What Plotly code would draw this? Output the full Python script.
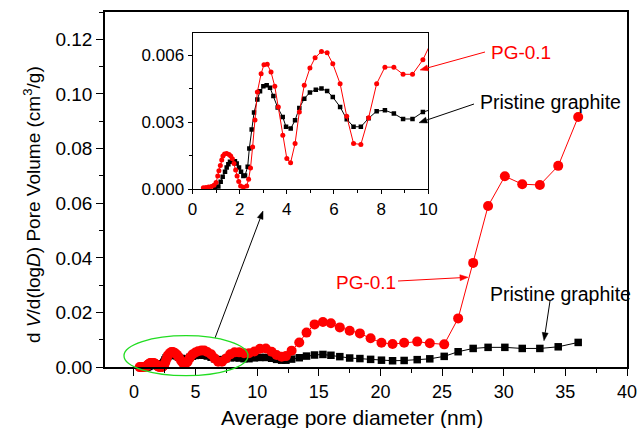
import math
import plotly.graph_objects as go

# ---------------- data ----------------
pg_x = [0.46, 0.57, 0.68, 0.80, 0.91, 1.00, 1.07, 1.12, 1.18, 1.24, 1.29, 1.36, 1.45, 1.55,
        1.62, 1.69, 1.76, 1.83, 1.89, 1.96, 2.04, 2.16, 2.30, 2.38, 2.46, 2.55, 2.65, 2.75,
        2.91, 3.03, 3.17, 3.33, 3.49, 3.64, 3.83, 4.00, 4.16, 4.35, 4.53, 4.74, 4.98, 5.20,
        5.47, 5.71, 5.95, 6.26, 6.54, 6.83, 7.14, 7.47, 7.81, 8.16, 8.54, 8.93, 9.33, 9.77,
        10.22, 10.70, 11.17, 11.57, 11.98, 12.33, 12.79, 13.41, 14.00, 14.65, 15.33, 15.98,
        16.70, 17.50, 18.33, 19.20, 20.08, 20.98, 21.92, 22.98, 24.00, 25.17, 26.30, 27.52,
        28.73, 30.09, 31.50, 32.93, 34.42, 36.04]
pg_y = [0.00007, 0.00008, 0.00010, 0.00013, 0.00018, 0.00030, 0.00060, 0.00083, 0.00107,
        0.00131, 0.00149, 0.00158, 0.00160, 0.00156, 0.00149, 0.00137, 0.00116, 0.00086,
        0.00060, 0.00035, 0.00015, 0.00009, 0.00015, 0.00045, 0.00095, 0.00190, 0.00310,
        0.00436, 0.00518, 0.00558, 0.00560, 0.00525, 0.00461, 0.00369, 0.00242, 0.00138,
        0.00119, 0.00205, 0.00346, 0.00466, 0.00543, 0.00589, 0.00617, 0.00611, 0.00562,
        0.00473, 0.00327, 0.00205, 0.00201, 0.00321, 0.00473, 0.00547, 0.00547, 0.00515,
        0.00515, 0.00580, 0.00680, 0.00690, 0.00570, 0.00450, 0.00390, 0.00410, 0.00610,
        0.00910, 0.01270, 0.01570, 0.01660, 0.01610, 0.01460, 0.01340, 0.01240, 0.01060,
        0.00900, 0.00850, 0.00900, 0.00940, 0.00880, 0.00840, 0.01790, 0.03820, 0.05900,
        0.06990, 0.06700, 0.06670, 0.07370, 0.09160]

gr_x = [0.955, 1.096, 1.195, 1.28, 1.379, 1.45, 1.52, 1.59, 1.69, 1.80, 1.874, 1.973, 2.058,
        2.157, 2.227, 2.34, 2.41, 2.51, 2.61, 2.75, 2.864, 3.005, 3.146, 3.288, 3.43, 3.613,
        3.826, 3.967, 4.165, 4.349, 4.53, 4.74, 4.98, 5.23, 5.47, 5.71, 5.95, 6.26, 6.54,
        6.83, 7.14, 7.47, 7.81, 8.16, 8.54, 8.93, 9.33, 9.77, 10.22, 10.70, 11.17, 11.57,
        11.98, 12.33, 12.79, 13.41, 14.00, 14.65, 15.33, 15.98, 16.70, 17.50, 18.33, 19.20,
        20.08, 20.98, 21.92, 22.98, 24.00, 25.17, 26.30, 27.52, 28.73, 30.09, 31.50, 32.93,
        34.42, 36.04]
gr_y = [0.00004, 0.00012, 0.00034, 0.00056, 0.00079, 0.00098, 0.00112, 0.00123, 0.00126,
        0.00126, 0.00116, 0.00098, 0.00079, 0.00060, 0.00062, 0.00101, 0.00183, 0.00268,
        0.00344, 0.00402, 0.00439, 0.00461, 0.00466, 0.00455, 0.00418, 0.00366, 0.00324,
        0.00280, 0.00272, 0.00309, 0.00364, 0.00406, 0.00434, 0.00446, 0.00451, 0.00440,
        0.00413, 0.00369, 0.00314, 0.00280, 0.00280, 0.00318, 0.00350, 0.00354, 0.00339,
        0.00315, 0.00315, 0.00346, 0.00360, 0.00360, 0.00330, 0.00290, 0.00260, 0.00260,
        0.00300, 0.00350, 0.00410, 0.00450, 0.00470, 0.00440, 0.00390, 0.00340, 0.00320,
        0.00290, 0.00260, 0.00240, 0.00250, 0.00280, 0.00310, 0.00400, 0.00570, 0.00690,
        0.00730, 0.00730, 0.00690, 0.00690, 0.00750, 0.00910]

main_xticks = [0, 5, 10, 15, 20, 25, 30, 35, 40]
main_yticks = [0.00, 0.02, 0.04, 0.06, 0.08, 0.10, 0.12]
inset_xticks = [0, 2, 4, 6, 8, 10]
inset_yticks = [0.000, 0.003, 0.006]

RED = "#FF0000"
BLACK = "#000000"
FONT = "Liberation Sans, Arial, sans-serif"
W, H = 638, 428


def px(x):
    return x / W


def py(y):
    return 1 - y / H


fig = go.Figure()

# main plot traces
fig.add_trace(go.Scatter(x=gr_x, y=gr_y, mode="lines+markers", name="Pristine graphite",
                         line=dict(color=BLACK, width=1),
                         marker=dict(symbol="square", size=7.5, color=BLACK),
                         cliponaxis=False, xaxis="x", yaxis="y"))
fig.add_trace(go.Scatter(x=pg_x, y=pg_y, mode="lines+markers", name="PG-0.1",
                         line=dict(color=RED, width=1),
                         marker=dict(symbol="circle", size=10, color=RED),
                         cliponaxis=False, xaxis="x", yaxis="y"))
# inset traces
fig.add_trace(go.Scatter(x=gr_x, y=gr_y, mode="lines+markers", name="Pristine graphite",
                         line=dict(color=BLACK, width=1),
                         marker=dict(symbol="square", size=4.5, color=BLACK),
                         xaxis="x2", yaxis="y2"))
fig.add_trace(go.Scatter(x=pg_x, y=pg_y, mode="lines+markers", name="PG-0.1",
                         line=dict(color=RED, width=1),
                         marker=dict(symbol="circle", size=5, color=RED),
                         xaxis="x2", yaxis="y2"))

axis_common = dict(showgrid=False, zeroline=False, showline=True, linecolor=BLACK,
                   mirror=True, ticks="outside", tickcolor=BLACK, automargin=False)

fig.update_layout(
    width=W, height=H,
    margin=dict(l=0, r=0, t=0, b=0, pad=0, autoexpand=False),
    paper_bgcolor="white", plot_bgcolor="white",
    showlegend=False,
    font=dict(family=FONT, color=BLACK),
    xaxis=dict(axis_common, domain=[px(105), px(627)], range=[-2.35, 40],
               tickvals=main_xticks, ticklen=7, tickwidth=1.2, linewidth=1.5,
               tickfont=dict(size=18, family=FONT),
               minor=dict(dtick=2.5, tick0=0, ticklen=4, ticks="outside", tickcolor=BLACK)),
    yaxis=dict(axis_common, domain=[py(367.3), py(12)], range=[0, 0.13],
               tickvals=main_yticks, tickformat=".2f", ticklen=7, tickwidth=1.2, linewidth=1.5,
               tickfont=dict(size=19, family=FONT),
               minor=dict(dtick=0.01, tick0=0, ticklen=4, ticks="outside", tickcolor=BLACK)),
    xaxis2=dict(axis_common, domain=[px(192.5), px(428.3)], range=[0, 10],
                tickvals=inset_xticks, ticklen=4, linewidth=1, anchor="y2",
                tickfont=dict(size=17, family=FONT),
                minor=dict(dtick=1, tick0=0, ticklen=2.5, ticks="outside", tickcolor=BLACK)),
    yaxis2=dict(axis_common, domain=[py(189.3), py(33)], range=[0, 0.007],
                tickvals=inset_yticks, tickformat=".3f", ticklen=4, linewidth=1, anchor="x2",
                tickfont=dict(size=17, family=FONT),
                minor=dict(dtick=0.0015, tick0=0, ticklen=2.5, ticks="outside", tickcolor=BLACK)),
)

annotations = [
    # axis titles
    dict(text="Average pore diameter (nm)", x=px(351.7), y=py(417), xref="paper", yref="paper",
         showarrow=False, font=dict(size=21, family=FONT, color=BLACK),
         xanchor="center", yanchor="middle"),
    dict(text="d <i>V</i>/d(log<i>D</i>) Pore Volume (cm<sup>3</sup>/g)", x=px(32), y=py(205),
         xref="paper", yref="paper", showarrow=False, textangle=-90,
         font=dict(size=19, family=FONT, color=BLACK), xanchor="center", yanchor="middle"),
    # labels
    dict(text="PG-0.1", x=px(521), y=py(52), xref="paper", yref="paper", showarrow=False,
         font=dict(size=19, family=FONT, color=RED), xanchor="center", yanchor="middle"),
    dict(text="Pristine graphite", x=px(550), y=py(101.7), xref="paper", yref="paper",
         showarrow=False, font=dict(size=19.5, family=FONT, color=BLACK),
         xanchor="center", yanchor="middle"),
    dict(text="PG-0.1", x=px(365.5), y=py(282), xref="paper", yref="paper", showarrow=False,
         font=dict(size=19, family=FONT, color=RED), xanchor="center", yanchor="middle"),
    dict(text="Pristine graphite", x=px(560), y=py(294), xref="paper", yref="paper",
         showarrow=False, font=dict(size=19.5, family=FONT, color=BLACK),
         xanchor="center", yanchor="middle"),
]
fig.update_layout(annotations=annotations)

# arrows drawn as line + filled triangle (pixel layout positions -> paper coords)
arrows = [
    ((420, 70), (485, 52), RED),
    ((419, 122.7), (474, 104), BLACK),
    ((468, 277.3), (398, 281), RED),
    ((544, 340.7), (550, 301), BLACK),
    ((263, 211), (215, 338), BLACK),
]
HEAD_LEN, HEAD_HALF = 8.0, 3.0
for (hx, hy), (tx, ty), col in arrows:
    dx, dy = hx - tx, hy - ty
    n = math.hypot(dx, dy)
    ux, uy = dx / n, dy / n
    bx, by = hx - HEAD_LEN * ux, hy - HEAD_LEN * uy
    nx, ny = -uy, ux
    fig.add_shape(type="line", xref="paper", yref="paper",
                  x0=px(tx), y0=py(ty), x1=px(bx), y1=py(by),
                  line=dict(color=col, width=1))
    p1 = (px(hx), py(hy))
    p2 = (px(bx + HEAD_HALF * nx), py(by + HEAD_HALF * ny))
    p3 = (px(bx - HEAD_HALF * nx), py(by - HEAD_HALF * ny))
    path = "M {:.5f},{:.5f} L {:.5f},{:.5f} L {:.5f},{:.5f} Z".format(*p1, *p2, *p3)
    fig.add_shape(type="path", xref="paper", yref="paper", path=path,
                  fillcolor=col, line=dict(color=col, width=0.5))

# green ellipse
fig.add_shape(type="circle", xref="paper", yref="paper",
              x0=px(124), x1=px(248), y0=py(375.7), y1=py(335.7),
              line=dict(color="#22DD22", width=1.3), fillcolor="rgba(0,0,0,0)")

post = (
    "var h=document.documentElement,b=document.body;"
    "h.style.margin='0';h.style.padding='0';h.style.overflow='hidden';"
    "b.style.margin='0';b.style.padding='0';b.style.overflow='hidden';"
    "var d=document.getElementById('{plot_id}');d.style.display='block';"
)

fig.write_html("out.html", config={"displayModeBar": False}, post_script=post)
